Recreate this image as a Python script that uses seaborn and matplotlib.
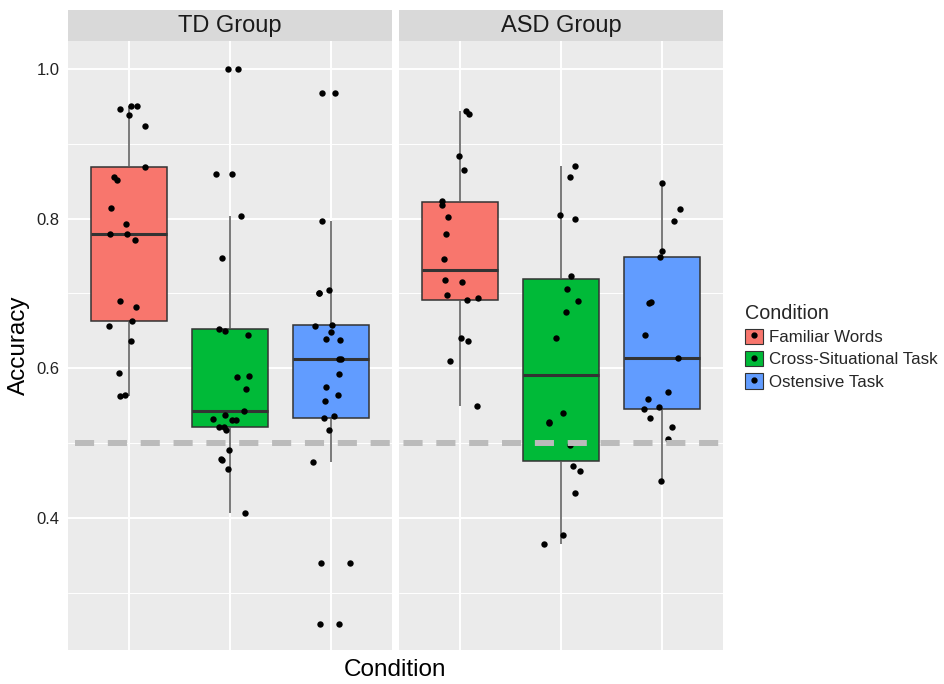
import numpy as np
import pandas as pd
import matplotlib
matplotlib.use("Agg")
import matplotlib.pyplot as plt
import matplotlib.transforms as mtransforms
from matplotlib.patches import Patch
from matplotlib.lines import Line2D
from matplotlib.legend_handler import HandlerTuple
import seaborn as sns

sns.set_style("white")
plt.rcParams['font.family'] = ['Liberation Sans', 'DejaVu Sans']

groups = ['TD Group', 'ASD Group']
conditions = ['Familiar Words', 'Cross-Situational Task', 'Ostensive Task']
palette = ['#F8766D', '#00BA38', '#619CFF']

# accuracy per participant
td_familiar = [0.951, 0.951, 0.946, 0.939, 0.924, 0.869, 0.856, 0.851, 0.814, 0.793,
               0.780, 0.780, 0.771, 0.690, 0.682, 0.663, 0.657, 0.636, 0.594, 0.565, 0.563]
td_cross = [1.0, 1.0, 0.860, 0.860, 0.803, 0.747, 0.653, 0.650, 0.645, 0.590, 0.589,
            0.572, 0.543, 0.537, 0.532, 0.531, 0.531, 0.521, 0.521, 0.518, 0.491,
            0.479, 0.478, 0.465, 0.407]
td_ostensive = [0.968, 0.968, 0.797, 0.705, 0.701, 0.701, 0.658, 0.657, 0.649, 0.639,
                0.638, 0.612, 0.612, 0.592, 0.575, 0.565, 0.557, 0.536, 0.533, 0.518,
                0.475, 0.340, 0.340, 0.259, 0.259]
asd_familiar = [0.944, 0.940, 0.884, 0.865, 0.824, 0.818, 0.802, 0.780, 0.746, 0.718,
                0.716, 0.698, 0.694, 0.691, 0.641, 0.636, 0.610, 0.550]
asd_cross = [0.871, 0.856, 0.805, 0.800, 0.724, 0.706, 0.690, 0.675, 0.641, 0.540,
             0.528, 0.527, 0.497, 0.470, 0.463, 0.433, 0.377, 0.365]
asd_ostensive = [0.847, 0.813, 0.797, 0.757, 0.749, 0.689, 0.687, 0.644, 0.614, 0.568,
                 0.559, 0.548, 0.546, 0.533, 0.522, 0.506, 0.449]
chance = 0.5

data = {
    'TD Group': [td_familiar, td_cross, td_ostensive],
    'ASD Group': [asd_familiar, asd_cross, asd_ostensive],
}
rows = []
for g in groups:
    for cond, vals in zip(conditions, data[g]):
        for v in vals:
            rows.append((g, cond, v))
df = pd.DataFrame(rows, columns=['group', 'condition', 'accuracy'])

W, H = 945, 684
fig = plt.figure(figsize=(W / 100, H / 100), dpi=100)


def px_axes(x0, y0, x1, y1):
    return fig.add_axes([x0 / W, 1 - y1 / H, (x1 - x0) / W, (y1 - y0) / H])


np.random.seed(3)
panels = [(68, 392), (399, 723)]
axs = []
for i, g in enumerate(groups):
    x0, x1 = panels[i]
    ax = px_axes(x0, 41, x1, 650)
    axs.append(ax)
    sub = df[df.group == g]
    ax.set_facecolor('#EBEBEB')
    sns.boxplot(data=sub, x='condition', y='accuracy', hue='condition',
                order=conditions, hue_order=conditions, palette=palette,
                saturation=1, width=0.75, showfliers=False, showcaps=False,
                linecolor='#333333', linewidth=1.1,
                medianprops=dict(linewidth=2.2, color='#333333'),
                whiskerprops=dict(color='#555555'),
                legend=False, ax=ax)
    sns.stripplot(data=sub, x='condition', y='accuracy', order=conditions,
                  color='black', size=4.6, jitter=0.2, ax=ax, zorder=4)
    ax.set_xlim(-0.6, 2.6)
    ax.set_ylim(0.2236, 1.0374)
    ax.set_yticks([0.4, 0.6, 0.8, 1.0])
    ax.set_yticks([0.3, 0.5, 0.7, 0.9], minor=True)
    ax.set_yticklabels(['0.4', '0.6', '0.8', '1.0'])
    ax.set_xticklabels(['', '', ''])
    ax.set_axisbelow(True)
    ax.grid(True, which='major', color='white', linewidth=1.4)
    ax.grid(True, which='minor', axis='y', color='white', linewidth=0.7)
    for s in ax.spines.values():
        s.set_visible(False)
    ax.set_xlabel('')
    ax.set_ylabel('')
    ax.tick_params(axis='x', length=0)
    ax.tick_params(axis='y', which='minor', length=0)
    if i == 0:
        ax.tick_params(axis='y', which='major', length=4, width=0.8, color='#333333',
                       labelsize=12, labelcolor='#222222', pad=2)
    else:
        ax.tick_params(axis='y', which='major', length=0, labelleft=False)

    sax = px_axes(x0, 10, x1, 41)
    sax.set_facecolor('#D9D9D9')
    sax.set_xticks([])
    sax.set_yticks([])
    for s in sax.spines.values():
        s.set_visible(False)
    sax.text(0.5, 0.47, g, ha='center', va='center', fontsize=17,
             color='#1A1A1A', transform=sax.transAxes)

# chance line spanning both panels, drawn on top of everything
trans = mtransforms.blended_transform_factory(fig.transFigure, axs[0].transData)
line = Line2D([75 / W, 727 / W], [chance, chance], transform=trans,
              color='#BBBBBB', linewidth=4.3, dashes=(3.2, 2.3), zorder=10)
line.set_clip_on(False)
fig.add_artist(line)

fig.text(395.5 / W, 1 - 670 / H, 'Condition', ha='center', va='center',
         fontsize=17.5, color='black')
fig.text(19 / W, 1 - 345 / H, 'Accuracy', ha='center', va='center',
         rotation=90, fontsize=17.5, color='black')

handles = [(Patch(facecolor=c, edgecolor='#333333', linewidth=0.8),
            Line2D([], [], marker='o', color='black', linestyle='', markersize=3.5))
           for c in palette]
fig.legend(handles, conditions, handler_map={tuple: HandlerTuple(ndivide=1)},
           loc='upper left', bbox_to_anchor=(733 / W, 1 - 292 / H),
           frameon=False, title='Condition', fontsize=12.2, title_fontsize=14.2,
           handlelength=1.05, handleheight=1.0, handletextpad=0.35,
           labelspacing=0.35, alignment='left', borderpad=0.2)

fig.savefig('out.png', dpi=100)
